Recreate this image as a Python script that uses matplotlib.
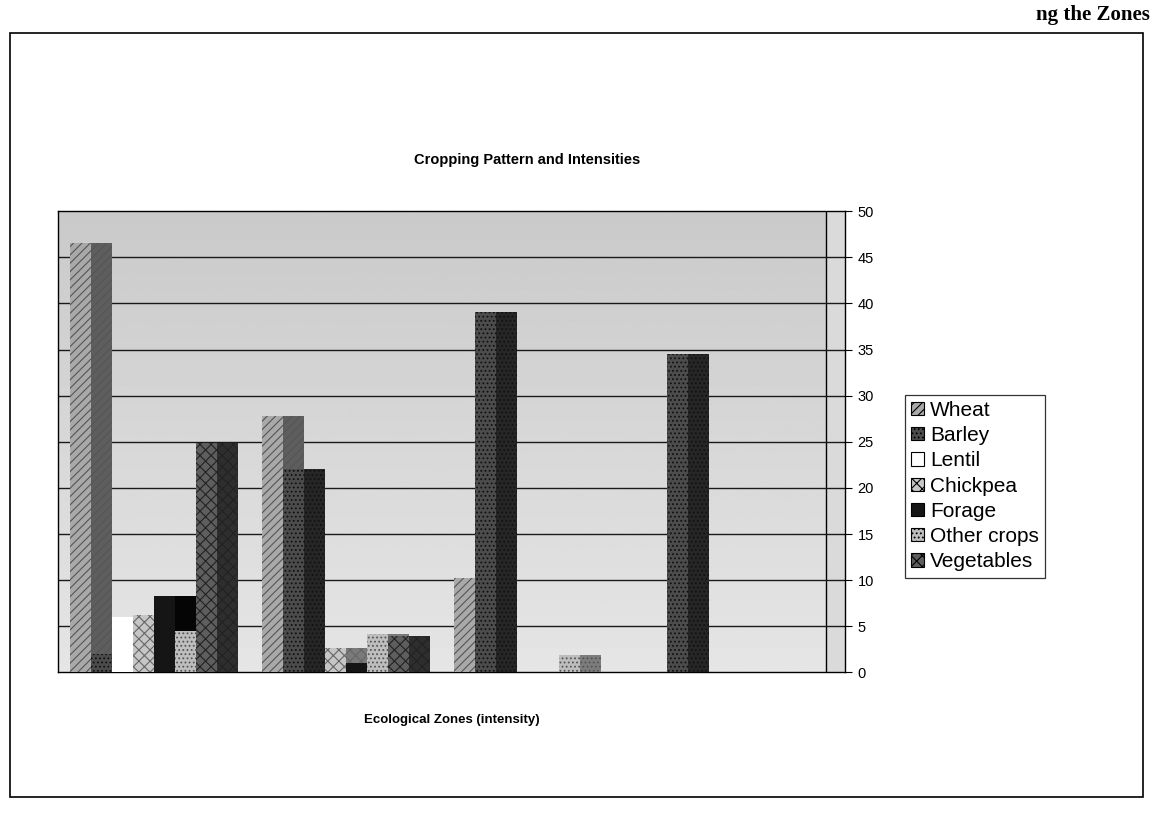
import numpy as np
import matplotlib.pyplot as plt
from matplotlib.patches import Patch, Rectangle

plt.rcParams['font.family'] = ['Liberation Sans', 'DejaVu Sans']
plt.rcParams['hatch.linewidth'] = 0.8

zones = ['Zone 1', 'Zone 2', 'Zone 3', 'Zone 4']
crops = ['Wheat', 'Barley', 'Lentil', 'Chickpea', 'Forage', 'Other crops', 'Vegetables']

wheat = [46.6, 27.8, 10.2, 0.0]
barley = [2.0, 22.0, 39.1, 34.5]
lentil = [6.0, 0.0, 0.0, 0.0]
chickpea = [6.2, 2.6, 0.0, 0.0]
forage = [8.3, 1.0, 0.0, 0.0]
other_crops = [4.5, 4.2, 1.9, 0.0]
vegetables = [24.9, 4.0, 0.0, 0.0]

series = [wheat, barley, lentil, chickpea, forage, other_crops, vegetables]

# front face, side face, hatch, hatch colour
styles = [
    ('#a9a9a9', '#5e5e5e', '////', '#555555'),
    ('#4c4c4c', '#262626', '....', '#111111'),
    ('#ffffff', '#d6d6d6', '', '#000000'),
    ('#c6c6c6', '#7a7a7a', 'xxx', '#666666'),
    ('#151515', '#050505', '', '#000000'),
    ('#bebebe', '#7c7c7c', '....', '#555555'),
    ('#5e5e5e', '#2e2e2e', 'xxx', '#222222'),
]

fig = plt.figure(figsize=(11.59, 8.22), dpi=100, facecolor='white')
ax = fig.add_axes([0.05, 0.182, 0.679, 0.561])

x = np.arange(len(zones))
w = 0.109
x_end = 3.6

# back wall: darker at the top, fading lighter toward the floor
grad = np.linspace(0.79, 0.90, 256).reshape(-1, 1)
ax.imshow(grad, extent=(-0.5, 3.5, 0, 50), aspect='auto', cmap='gray',
          vmin=0, vmax=1, zorder=0)
ax.axvspan(3.5, x_end, color='#dadada', zorder=0.5, lw=0)
ax.axvline(3.5, color='black', lw=1.0, zorder=1)
for v in range(5, 50, 5):
    ax.axhline(v, color='#1a1a1a', lw=1.0, zorder=1)

# each column: a front face, then its darker side face one slot to the right
for i, (vals, (front, side, hatch, hcol)) in enumerate(zip(series, styles)):
    left = x - 4 * w + i * w
    ax.bar(left + w, vals, width=w, align='edge', color=side, edgecolor=hcol,
           hatch=hatch, linewidth=0, zorder=2 + 2 * i)
    ax.bar(left, vals, width=w, align='edge', color=front, edgecolor=hcol,
           hatch=hatch, linewidth=0, zorder=3 + 2 * i)

ax.set_xlim(-0.5, x_end)
ax.set_ylim(0, 50)
ax.set_xticks([])
ax.yaxis.tick_right()
ax.set_yticks(np.arange(0, 51, 5))
ax.tick_params(axis='y', direction='out', length=5, width=0.8, labelsize=10.5,
               pad=4)
for s in ax.spines.values():
    s.set_color('black')
    s.set_linewidth(1.0)

ax.set_xlabel('Ecological Zones (intensity)', fontsize=9.5, fontweight='bold',
              labelpad=30)
fig.text(0.455, 0.805, 'Cropping Pattern and Intensities', ha='center',
         va='center', fontsize=10.5, fontweight='bold')

handles = [Patch(facecolor=f, edgecolor='black', hatch=ht, linewidth=0.8)
           for f, _, ht, _ in styles]
leg = fig.legend(handles, crops, loc='upper left',
                 bbox_to_anchor=(0.781, 0.52), fontsize=15, frameon=True,
                 fancybox=False, edgecolor='black', handlelength=0.6,
                 handleheight=0.6, handletextpad=0.3, borderpad=0.3,
                 labelspacing=0.3, borderaxespad=0)
leg.get_frame().set_linewidth(0.9)

# outer chart border and the page heading above it
fig.patches.append(Rectangle((0.009, 0.03), 0.977, 0.93, transform=fig.transFigure,
                             fill=False, edgecolor='black', lw=1.2))
fig.text(0.992, 0.982, 'ng the Zones', ha='right', va='center', fontsize=15,
         fontweight='bold', family=['Liberation Serif', 'DejaVu Serif'])

fig.savefig('out.png', dpi=100, facecolor='white')
